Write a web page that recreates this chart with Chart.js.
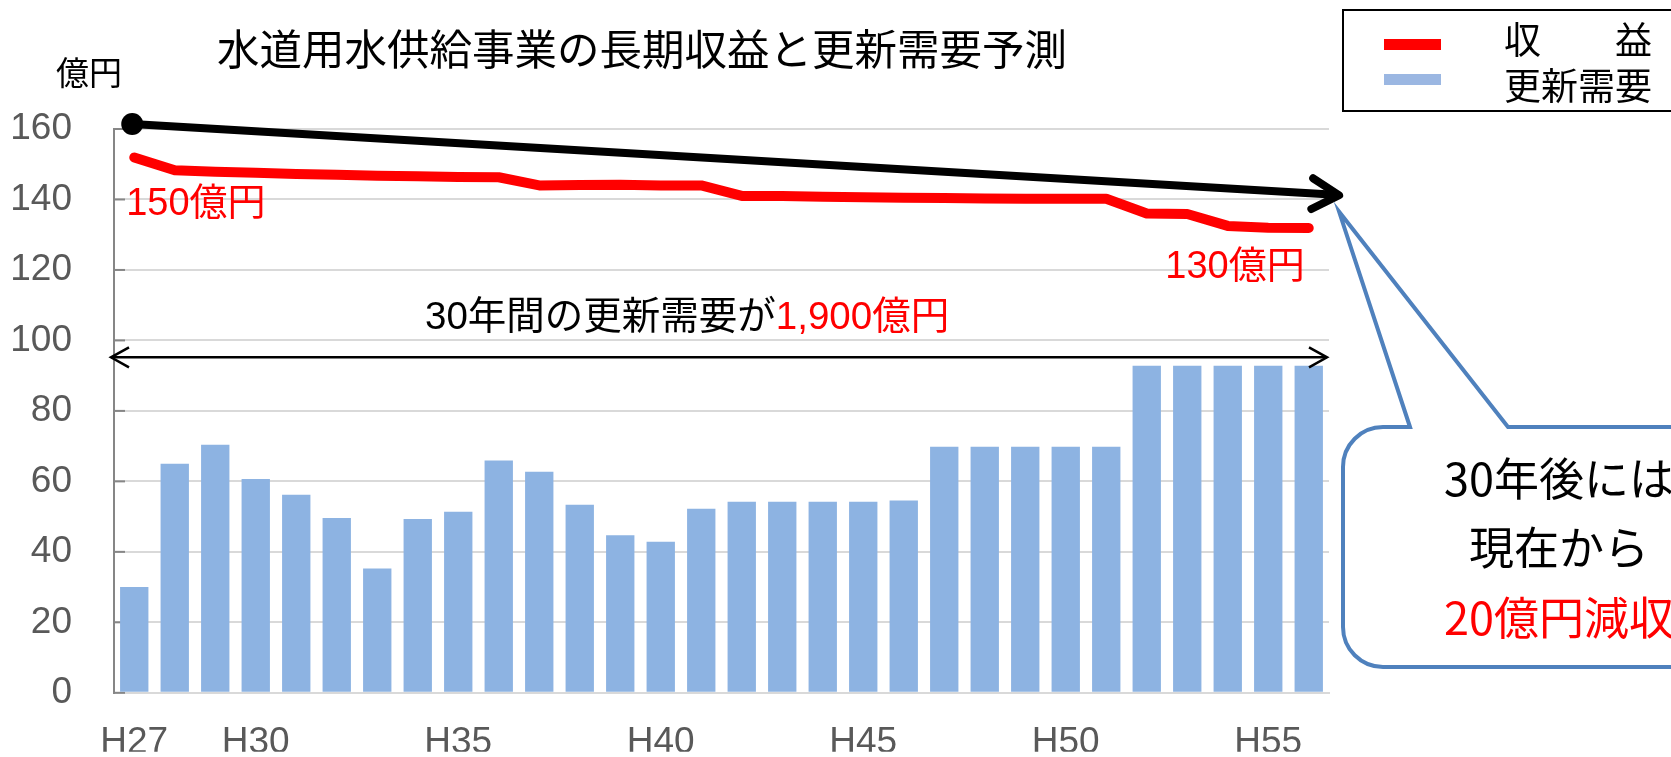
<!DOCTYPE html>
<html>
<head>
<meta charset="utf-8">
<script src="https://cdn.jsdelivr.net/npm/chart.js@4.4.1/dist/chart.umd.min.js"></script>
<style>
html,body{margin:0;padding:0;background:#fff;overflow:hidden;}
#wrap{width:1671px;height:757px;position:relative;}
canvas{display:block;}
</style>
</head>
<body>
<div id="wrap"><canvas id="c" width="1671" height="757"></canvas></div>
<script>
// ---- data ----
const categories = ['H27','H28','H29','H30','H31','H32','H33','H34','H35','H36',
                    'H37','H38','H39','H40','H41','H42','H43','H44','H45','H46',
                    'H47','H48','H49','H50','H51','H52','H53','H54','H55','H56'];
const shownTicks = ['H27','H30','H35','H40','H45','H50','H55'];
const yTickValues = [0,20,40,60,80,100,120,140,160];
const revenue = [151.9,148.3,147.9,147.6,147.2,147.0,146.7,146.6,146.4,146.3,
                 144.0,144.1,144.2,144.0,144.0,141.0,141.0,140.8,140.6,140.5,
                 140.4,140.3,140.2,140.2,140.2,136.0,135.9,132.5,132.0,131.9];
const renewal = [30.0,65.0,70.4,60.7,56.2,49.6,35.3,49.3,51.4,65.9,
                 62.7,53.4,44.7,42.9,52.2,54.2,54.2,54.2,54.2,54.6,
                 69.8,69.8,69.8,69.8,69.8,92.8,92.8,92.8,92.8,92.8];
const seriesNames = ['収　　益','更新需要'];
const titleText = '水道用水供給事業の長期収益と更新需要予測';
const unitText = '億円';
const noteStart = '150億円';
const noteEnd = '130億円';
const noteTotal = ['30年間の更新需要が','1,900億円'];
const calloutLines = ['30年後には','現在から','20億円減収'];

const RED = '#ff0000';
const BLUE = '#8db3e2';
const JP = '"Noto Sans CJK JP","Noto Sans CJK SC",sans-serif';
const LAT = '"Liberation Sans",Arial,"Noto Sans CJK JP",sans-serif';

const overlay = {
  id: 'overlay',
  beforeDatasetsDraw(chart) {
    const ctx = chart.ctx, y = chart.scales.y, a = chart.chartArea;
    ctx.save();
    ctx.strokeStyle = '#868686';
    ctx.lineWidth = 2;
    yTickValues.forEach(v => {
      const py = y.getPixelForValue(v);
      ctx.beginPath(); ctx.moveTo(a.left, py); ctx.lineTo(a.left + 11, py); ctx.stroke();
    });
    ctx.restore();
  },
  afterDatasetsDraw(chart) {
    const ctx = chart.ctx, x = chart.scales.x, y = chart.scales.y, a = chart.chartArea;
    const px = v => x.getPixelForValue(v);
    const py = v => y.getPixelForValue(v);
    ctx.save();

    // title
    ctx.fillStyle = '#000';
    ctx.font = '42.5px ' + JP;
    ctx.textAlign = 'center';
    ctx.textBaseline = 'middle';
    ctx.fillText(titleText, 642, 49);

    // unit
    ctx.font = '33px ' + JP;
    ctx.fillText(unitText, 89, 72);

    // trend arrow (black)
    const x0 = px(-0.05), y0 = py(161.4);
    const x1 = px(29.75), y1 = py(141.2);
    ctx.strokeStyle = '#000';
    ctx.lineWidth = 8;
    ctx.lineCap = 'round';
    ctx.lineJoin = 'round';
    ctx.beginPath(); ctx.moveTo(x0, y0); ctx.lineTo(x1 - 4, y1 - 0.5); ctx.stroke();
    const ang = Math.atan2(y1 - y0, x1 - x0);
    const headL = 31, headA = 0.52;
    ctx.beginPath();
    ctx.moveTo(x1 - headL * Math.cos(ang - headA), y1 - headL * Math.sin(ang - headA));
    ctx.lineTo(x1, y1);
    ctx.lineTo(x1 - headL * Math.cos(ang + headA), y1 - headL * Math.sin(ang + headA));
    ctx.stroke();
    ctx.fillStyle = '#000';
    ctx.beginPath(); ctx.arc(x0, y0, 11, 0, Math.PI * 2); ctx.fill();

    // value notes
    ctx.font = '38px ' + LAT;
    ctx.fillStyle = RED;
    ctx.textBaseline = 'middle';
    ctx.textAlign = 'left';
    ctx.fillText(noteStart, px(-0.2), py(138.6));
    ctx.textAlign = 'right';
    ctx.fillText(noteEnd, px(28.9), py(120.6));

    // total note
    ctx.font = '38.5px ' + LAT;
    const w1 = ctx.measureText(noteTotal[0]).width;
    const w2 = ctx.measureText(noteTotal[1]).width;
    const cx = px(13.65), cy = py(106.2);
    ctx.textAlign = 'left';
    ctx.fillStyle = '#000';
    ctx.fillText(noteTotal[0], cx - (w1 + w2) / 2, cy);
    ctx.fillStyle = RED;
    ctx.fillText(noteTotal[1], cx - (w1 + w2) / 2 + w1, cy);

    // double arrow
    const ay = py(95.2);
    const ax0 = a.left - 3, ax1 = a.right - 2;
    ctx.strokeStyle = '#000';
    ctx.lineWidth = 2.5;
    ctx.lineCap = 'butt';
    ctx.lineJoin = 'miter';
    ctx.beginPath(); ctx.moveTo(ax0, ay); ctx.lineTo(ax1, ay); ctx.stroke();
    ctx.beginPath();
    ctx.moveTo(ax0 + 18, ay - 10); ctx.lineTo(ax0, ay); ctx.lineTo(ax0 + 18, ay + 10);
    ctx.moveTo(ax1 - 18, ay - 10); ctx.lineTo(ax1, ay); ctx.lineTo(ax1 - 18, ay + 10);
    ctx.stroke();

    // callout
    const tipX = px(29.75), tipY = py(136.5);
    const bl = 1343, bt = 427, bb = 667, br = 1777, r = 40;
    const pb0 = 1410, pb1 = 1508;
    ctx.beginPath();
    ctx.moveTo(pb0, bt);
    ctx.lineTo(tipX, tipY);
    ctx.lineTo(pb1, bt);
    ctx.lineTo(br - r, bt);
    ctx.arcTo(br, bt, br, bt + r, r);
    ctx.lineTo(br, bb - r);
    ctx.arcTo(br, bb, br - r, bb, r);
    ctx.lineTo(bl + r, bb);
    ctx.arcTo(bl, bb, bl, bb - r, r);
    ctx.lineTo(bl, bt + r);
    ctx.arcTo(bl, bt, bl + r, bt, r);
    ctx.closePath();
    ctx.fillStyle = '#fff';
    ctx.fill();
    ctx.strokeStyle = '#4f81bd';
    ctx.lineWidth = 4;
    ctx.lineJoin = 'miter';
    ctx.stroke();

    ctx.font = '45px ' + JP;
    ctx.textAlign = 'center';
    ctx.textBaseline = 'middle';
    ctx.fillStyle = '#000';
    ctx.fillText(calloutLines[0], 1559, 479);
    ctx.fillText(calloutLines[1], 1559, 548);
    ctx.fillStyle = RED;
    ctx.fillText(calloutLines[2], 1559, 618);

    // legend
    ctx.strokeStyle = '#000';
    ctx.lineWidth = 2;
    ctx.strokeRect(1343, 10, 400, 101);
    ctx.fillStyle = chart.data.datasets[0].borderColor;
    ctx.fillRect(1384, 39, 57, 11);
    ctx.fillStyle = '#9bb7e2';
    ctx.fillRect(1384, 74, 57, 11);
    ctx.fillStyle = '#000';
    ctx.font = '37px ' + JP;
    ctx.textAlign = 'left';
    ctx.fillText(chart.data.datasets[0].label, 1504, 40);
    ctx.fillText(chart.data.datasets[1].label, 1504, 86);

    ctx.restore();
  }
};

new Chart(document.getElementById('c'), {
  type: 'bar',
  data: {
    labels: categories,
    datasets: [
      {
        type: 'line',
        label: seriesNames[0],
        data: revenue,
        borderColor: RED,
        backgroundColor: RED,
        borderWidth: 10,
        pointRadius: 0,
        tension: 0,
        borderCapStyle: 'round',
        borderJoinStyle: 'round',
        order: 0
      },
      {
        type: 'bar',
        label: seriesNames[1],
        data: renewal,
        backgroundColor: BLUE,
        borderWidth: 0,
        categoryPercentage: 1.0,
        barPercentage: 0.7,
        order: 1
      }
    ]
  },
  options: {
    responsive: false,
    animation: false,
    devicePixelRatio: 1,
    layout: { padding: { top: 129, right: 342, left: 0, bottom: 0 } },
    plugins: {
      legend: { display: false },
      title: { display: false },
      tooltip: { enabled: false }
    },
    scales: {
      x: {
        grid: { display: false, drawTicks: false },
        border: { display: true, color: '#d9d9d9', width: 2 },
        ticks: {
          autoSkip: false,
          maxRotation: 0,
          padding: 28,
          color: '#595959',
          font: { family: LAT, size: 37 },
          callback: function(v) {
            const lab = categories[v];
            return shownTicks.includes(lab) ? lab : '';
          }
        },
        afterFit(s) { s.height = 59; }
      },
      y: {
        min: 0, max: 160,
        afterBuildTicks(s) { s.ticks = yTickValues.map(v => ({ value: v })); },
        grid: { color: '#d9d9d9', lineWidth: 2, drawTicks: false },
        border: { display: true, color: '#868686', width: 2 },
        ticks: {
          padding: 42,
          color: '#595959',
          font: { family: LAT, size: 37 }
        },
        afterFit(s) { s.width = 114; }
      }
    }
  },
  plugins: [overlay]
});
</script>
</body>
</html>
